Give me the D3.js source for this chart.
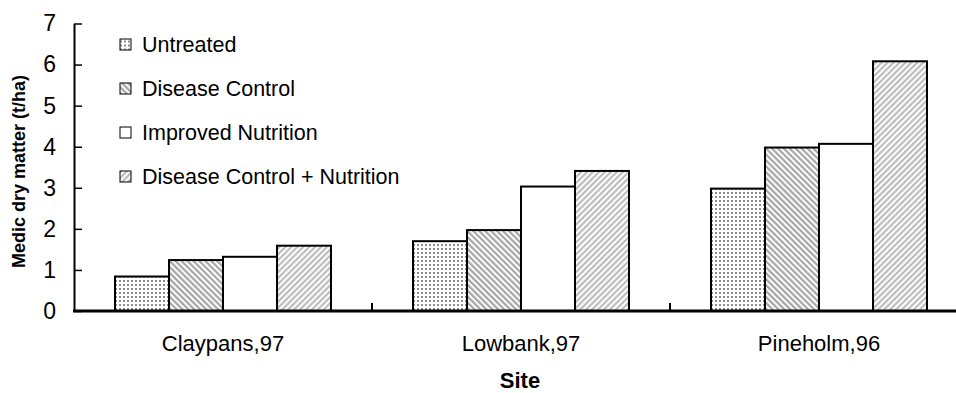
<!DOCTYPE html>
<html>
<head>
<meta charset="utf-8">
<script src="https://cdn.jsdelivr.net/npm/d3@7"></script>
<style>
  html, body { margin: 0; padding: 0; background: #fff; }
  svg { display: block; }
  text { font-family: "Liberation Sans", Arial, sans-serif; fill: #000; }
</style>
</head>
<body>
<svg id="chart" width="956" height="393"></svg>
<script>
// Sites along the x axis
const sites = ["Claypans,97", "Lowbank,97", "Pineholm,96"];
// Treatments (one bar per site)
const treatments = ["Untreated", "Disease Control", "Improved Nutrition", "Disease Control + Nutrition"];
// Medic dry matter (t/ha), one array per treatment, in site order
const untreated          = [0.84, 1.70, 2.98];
const diseaseControl     = [1.24, 1.97, 3.98];
const improvedNutrition  = [1.32, 3.03, 4.07];
const diseaseNutrition   = [1.59, 3.41, 6.08];
const seriesValues = [untreated, diseaseControl, improvedNutrition, diseaseNutrition];
// Y axis ticks
const yTicks = [0, 1, 2, 3, 4, 5, 6, 7];

const svg = d3.select("#chart");

// Fill patterns for each treatment
const defs = svg.append("defs");
const dots = defs.append("pattern").attr("id", "p-dots")
  .attr("patternUnits", "userSpaceOnUse").attr("width", 4).attr("height", 4);
dots.append("rect").attr("width", 4).attr("height", 4).attr("fill", "#fff");
dots.append("rect").attr("width", 2).attr("height", 2).attr("fill", "#8c8c8c");

function stripes(id, angle, color) {
  const p = defs.append("pattern").attr("id", id)
    .attr("patternUnits", "userSpaceOnUse").attr("width", 4.2).attr("height", 4.2)
    .attr("patternTransform", `rotate(${angle})`);
  p.append("rect").attr("width", 4.2).attr("height", 4.2).attr("fill", "#fff");
  p.append("rect").attr("width", 2.2).attr("height", 4.2).attr("fill", color);
}
stripes("p-back", -45, "#a6a6a6");
stripes("p-fwd", 45, "#bdbdbd");

const fills = ["url(#p-dots)", "url(#p-back)", "#fff", "url(#p-fwd)"];

// Scales
const x0 = d3.scaleBand().domain(sites).range([74, 968])
  .paddingInner(0.2752).paddingOuter(0.1376);
const x1 = d3.scaleBand().domain(treatments).range([0, x0.bandwidth()]);
const y = d3.scaleLinear().domain([0, 7]).range([311, 23.5]);

// Bars
const groups = svg.append("g").selectAll("g").data(sites).join("g")
  .attr("transform", d => `translate(${x0(d)},0)`);
groups.selectAll("rect")
  .data((site, i) => treatments.map((t, k) => ({ t, k, v: seriesValues[k][i] })))
  .join("rect")
  .attr("x", d => x1(d.t))
  .attr("y", d => y(d.v))
  .attr("width", x1.bandwidth())
  .attr("height", d => y(0) - y(d.v))
  .attr("fill", d => fills[d.k])
  .attr("stroke", "#000")
  .attr("stroke-width", 2);

// Y axis (ticks pointing inward)
const yAxis = svg.append("g").attr("transform", "translate(74,0)")
  .call(d3.axisLeft(y).tickValues(yTicks).tickFormat(d3.format("d"))
    .tickSizeInner(-8).tickSizeOuter(0).tickPadding(18));
yAxis.select(".domain").attr("stroke", "#000").attr("stroke-width", 2);
yAxis.selectAll(".tick line").attr("stroke", "#000").attr("stroke-width", 1.5);
yAxis.selectAll(".tick text").attr("font-size", 23)
  .style("font-family", "'Liberation Sans', Arial, sans-serif");

// X axis: baseline, category labels and tick marks between sites
const xAxis = svg.append("g").attr("transform", "translate(0,311)")
  .call(d3.axisBottom(x0).tickSize(0).tickPadding(24));
xAxis.select(".domain").remove();
xAxis.selectAll(".tick text").attr("font-size", 22)
  .style("font-family", "'Liberation Sans', Arial, sans-serif");
const boundaries = sites.map((s, i) => x0.range()[0] + (i + 1) * x0.step());
svg.append("g").selectAll("line").data(boundaries).join("line")
  .attr("x1", d => d).attr("x2", d => d)
  .attr("y1", y(0)).attr("y2", y(0) - 8)
  .attr("stroke", "#000").attr("stroke-width", 2);
svg.append("line")
  .attr("x1", 73).attr("x2", 956).attr("y1", y(0)).attr("y2", y(0))
  .attr("stroke", "#000").attr("stroke-width", 3);

// Axis titles
svg.append("text")
  .attr("transform", "translate(24.5,171.5) rotate(-90)")
  .attr("text-anchor", "middle").attr("font-size", 18).attr("font-weight", "bold")
  .text("Medic dry matter (t/ha)");
svg.append("text")
  .attr("x", 520).attr("y", 388)
  .attr("text-anchor", "middle").attr("font-size", 22).attr("font-weight", "bold")
  .text("Site");

// Legend
const legend = svg.append("g").selectAll("g").data(treatments).join("g")
  .attr("transform", (d, i) => `translate(120,${44.5 + i * 44})`);
legend.append("rect")
  .attr("x", 0).attr("y", -5.5).attr("width", 11).attr("height", 11)
  .attr("fill", (d, i) => fills[i]).attr("stroke", "#000").attr("stroke-width", 1);
legend.append("text")
  .attr("x", 22).attr("y", 7.7)
  .attr("font-size", 21.5)
  .text(d => d);
</script>
</body>
</html>
